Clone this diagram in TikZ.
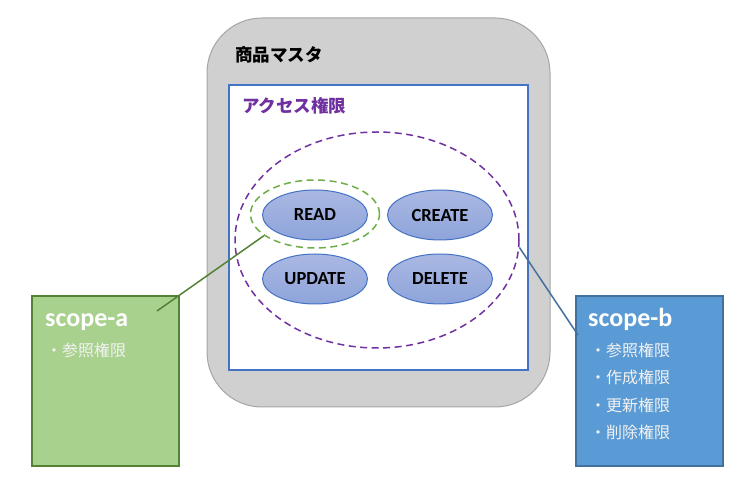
\documentclass[tikz,border=0pt]{standalone}
\usepackage{fontspec}
\setmainfont{Carlito}
\newfontfamily\jpfont{Noto Sans CJK JP}
\usetikzlibrary{shapes.geometric,positioning}
\definecolor{mastergray}{HTML}{D0D0D0}
\definecolor{masterline}{HTML}{A5A5A5}
\definecolor{accblue}{HTML}{4472C4}
\definecolor{accpurple}{HTML}{7030A0}
\definecolor{scopegreen}{HTML}{A9D18E}
\definecolor{scopegreenline}{HTML}{548235}
\definecolor{readgreen}{HTML}{70AD47}
\definecolor{scopeblue}{HTML}{5B9BD5}
\definecolor{scopeblueline}{HTML}{41719C}
\definecolor{optop}{HTML}{AAB8E2}
\definecolor{opbottom}{HTML}{8EA4DA}
\tikzset{
  op/.style={ellipse,draw=accblue,line width=1pt,top color=optop,bottom color=opbottom,
    minimum width=105pt,minimum height=50pt,inner sep=0pt,font=\fontsize{18.5}{22}\selectfont\bfseries},
  scopebox/.style={rectangle,line width=2pt,minimum width=147pt,minimum height=170pt,inner sep=0pt},
  scopetitle/.style={anchor=base west,inner sep=0pt,text=white,font=\fontsize{26}{30}\selectfont\bfseries},
  scopeitem/.style={anchor=west,inner sep=0pt,text=white!95!black,font=\jpfont\fontsize{16}{18}\selectfont}
}

\begin{document}
\begin{tikzpicture}[x=1pt,y=-1pt]
\useasboundingbox (0,0) rectangle (756,494);
           \node[rectangle,rounded corners=55pt,fill=mastergray,draw=masterline,line width=1pt,
                 minimum width=343pt,minimum height=389pt] (master) at (378.5,212.5) {};
           \node[anchor=west,inner sep=0pt,font=\jpfont\fontsize{17.5}{20}\selectfont\bfseries] (mastername) at (235,55) {商品マスタ};
           \node[rectangle,fill=white,draw=accblue,line width=2pt,
                 minimum width=299pt,minimum height=285pt] (access) at (378.5,227.5) {};
           \node[anchor=west,inner sep=0pt,text=accpurple,font=\jpfont\fontsize{17.5}{20}\selectfont\bfseries] (accessname) at (242,106) {アクセス権限};
           \node[ellipse,draw=accpurple,line width=1.5pt,dash pattern=on 7pt off 4.5pt,
                 minimum width=284pt,minimum height=216pt] (perm) at (377,240) {};
           \node[ellipse,draw=readgreen,line width=1.5pt,dash pattern=on 7pt off 4.5pt,
                 minimum width=129pt,minimum height=68pt] (readscope) at (315,214) {};
           \node[op] (read)   at (315,215) {READ};
           \node[op] (create) [right=19pt of read] {CREATE};
           \node[op] (update) [below=13pt of read] {UPDATE};
           \node[op] (delete) [right=19pt of update] {DELETE};
           % scope-a
           \node[scopebox,fill=scopegreen,draw=scopegreenline] (scopea) at (105.5,381) {};
           \node[scopetitle] (atitle) at (45,327) {scope-a};
           \node[scopeitem] (aitem1) at (46,350) {・参照権限};
           % scope-b
           \node[scopebox,fill=scopeblue,draw=scopeblueline] (scopeb) at (649.5,381) {};
           \node[scopetitle] (btitle) at (588,327) {scope-b};
           \node[scopeitem] (bitem1) at (590,350) {・参照権限};
           \node[scopeitem] (bitem2) at (590,377.5) {・作成権限};
           \node[scopeitem] (bitem3) at (590,405) {・更新権限};
           \node[scopeitem] (bitem4) at (590,432.5) {・削除権限};
           \coordinate (atip) at (157,311);
           \coordinate (btip) at (578,335);
            \path[line width=1.5pt]
            (atip) edge [draw=scopegreenline] (readscope.203)
            (btip) edge [draw=scopeblueline] (perm.-3)
            ;
        \end{tikzpicture}
\end{document}
